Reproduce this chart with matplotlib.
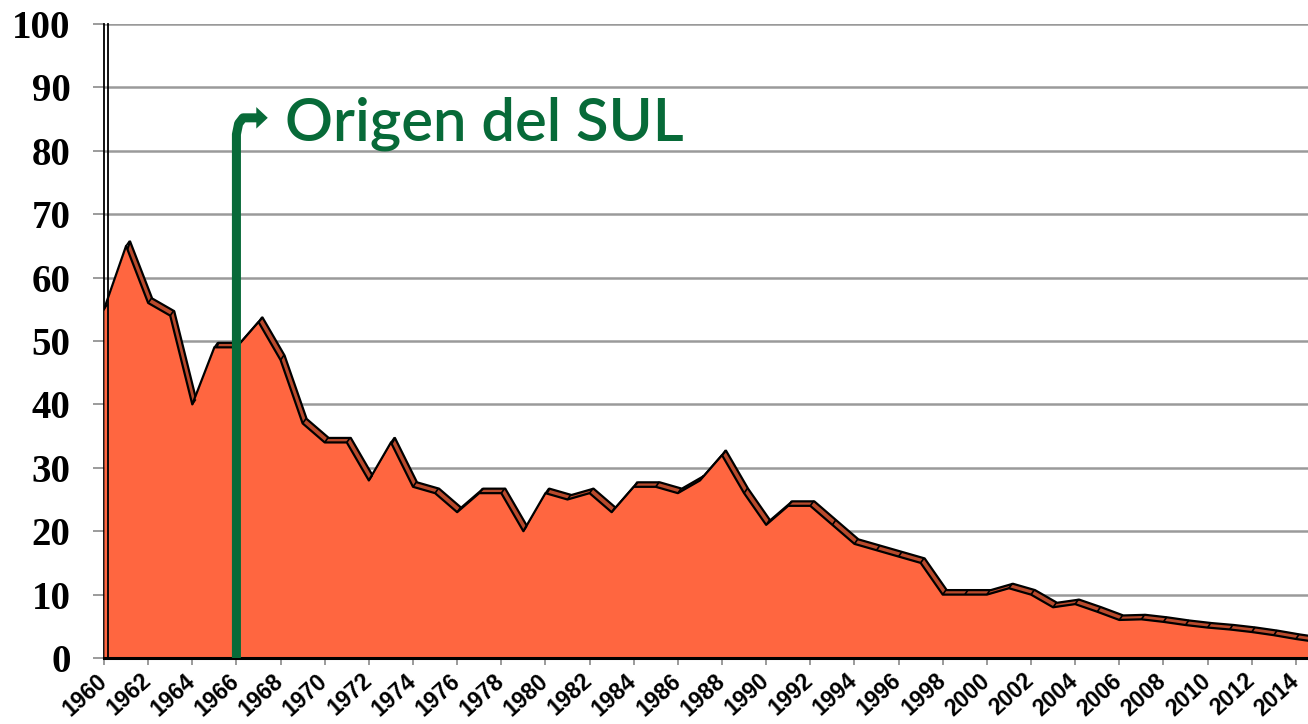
import numpy as np
import matplotlib.pyplot as plt
from matplotlib import transforms
from matplotlib.collections import LineCollection

# datos
anios = np.arange(1960, 2016)
valores = [55, 65, 56, 54, 40, 49, 49, 53, 47, 37,
           34, 34, 28, 34, 27, 26, 23, 26, 26, 20,
           26, 25, 26, 23, 27, 27, 26, 28, 32, 26,
           21, 24, 24, 21, 18, 17, 16, 15, 10, 10,
           10, 11, 10, 8, 8.5, 7.3, 6, 6.1, 5.7, 5.2,
           4.8, 4.5, 4.1, 3.6, 3.0, 2.5]
ticks_x = np.arange(1960, 2015, 2)
ticks_y = np.arange(0, 101, 10)
anio_sul = 1966
texto = "Origen del SUL"

color_frente = '#FF6640'
color_fondo = '#B94A2C'
verde = '#076A38'

fig = plt.figure(figsize=(13.08, 7.24), dpi=100)
ax = fig.add_axes([104/1308, 66/724, 1204/1308, 634/724])
ax.set_xlim(1960, 2014.55)
ax.set_ylim(0, 100)

# grilla
ax.set_yticks(ticks_y)
ax.yaxis.grid(True, color='#9a9a9a', lw=1.8, zorder=0)
ax.set_axisbelow(True)

# efecto 3D: cara de atras desplazada
dx, dy = 3.5, 5
desp = transforms.offset_copy(ax.transData, fig=fig, x=dx, y=dy, units='dots')
ax.fill_between(anios, valores, 0, color=color_fondo, transform=desp, zorder=2,
                edgecolor='black', lw=1.6)
ax.fill_between(anios, valores, 0, color=color_frente, zorder=3, lw=0)
ax.plot(anios, valores, color='black', lw=1.6, zorder=4)

# separadores de la banda
pts = ax.transData.transform(np.column_stack([anios, valores]))
inv = ax.transData.inverted()
segs = []
for p in pts:
    a = inv.transform(p)
    b = inv.transform(p + np.array([dx, dy]))
    segs.append([a, b])
ax.add_collection(LineCollection(segs, colors='black', lw=1.2, zorder=4))

# pared izquierda doble
ax.spines['left'].set_linewidth(1.3)
ax.spines['left'].set_color('black')
pared = transforms.offset_copy(ax.transData, fig=fig, x=3.5, y=0, units='dots')
ax.plot([1960, 1960], [0, 100], color='black', lw=1.3, transform=pared, zorder=5,
        clip_on=False)
ax.spines['bottom'].set_linewidth(2.2)
ax.spines['bottom'].set_zorder(6)
ax.spines['top'].set_visible(False)
ax.spines['right'].set_visible(False)

# ejes
ax.set_xticks(ticks_x)
ax.set_xticklabels([str(t) for t in ticks_x], rotation=42, ha='right',
                   rotation_mode='anchor', fontsize=16.5, fontweight='bold',
                   family='Liberation Sans')
ax.set_yticklabels([str(t) for t in ticks_y], fontsize=28, fontweight='bold',
                   family='Liberation Serif')
ax.tick_params(axis='y', length=8, width=1.2, color='#8a8a8a', pad=16)
ax.tick_params(axis='x', length=5, width=1.2, color='#8a8a8a', pad=3)
corr = transforms.ScaledTranslation(-8/100, 0, fig.dpi_scale_trans)
for lab in ax.get_xticklabels():
    lab.set_transform(lab.get_transform() + corr)

# flecha verde
y_top = 85.2
ax.plot([anio_sul, anio_sul, anio_sul + 0.1, anio_sul + 0.3, anio_sul + 0.95],
        [0, y_top - 2.6, y_top - 0.9, y_top, y_top],
        color=verde, lw=6.5, solid_capstyle='butt', solid_joinstyle='round', zorder=7,
        clip_on=False)
ax.fill([anio_sul + 0.9, anio_sul + 0.9, anio_sul + 1.42],
        [y_top + 1.7, y_top - 1.7, y_top], color=verde, lw=0, zorder=7)
ax.text(1968.2, 81.7, texto, color=verde, fontsize=43, family='Lato',
        fontweight='semibold', va='baseline', ha='left', zorder=8)

fig.savefig('out.png', dpi=100)
